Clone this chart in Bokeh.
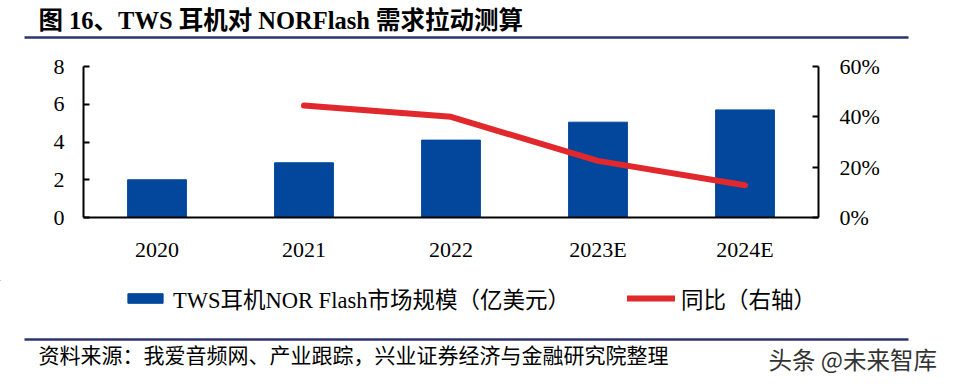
from bokeh.plotting import figure
from bokeh.layouts import column
from bokeh.models import (Range1d, LinearAxis, FixedTicker, NumeralTickFormatter,
                          Legend, LegendItem, ColumnDataSource)
from bokeh.core.properties import value
from bokeh.embed import file_html
from bokeh.resources import INLINE

# ---- data ----
years = ["2020", "2021", "2022", "2023E", "2024E"]
market = [2.0, 2.9, 4.1, 5.05, 5.7]          # 亿美元
yoy_years = ["2021", "2022", "2023E", "2024E"]
yoy = [0.445, 0.40, 0.225, 0.128]             # 同比
left_ticks = [0, 2, 4, 6, 8]
right_ticks = [0, 0.2, 0.4, 0.6]

title_text = "图 16、TWS 耳机对 NORFlash 需求拉动测算"
bar_label = "TWS耳机NOR Flash市场规模（亿美元）"
line_label = "同比（右轴）"
source_text = "资料来源：我爱音频网、产业跟踪，兴业证券经济与金融研究院整理"
mark_text = "头条 @未来智库"

BLUE = "#02479B"
RED = "#E1282C"
NAVY = "#2F3270"
SERIF = "Liberation Serif, Noto Sans CJK SC"
SANS = "Noto Sans CJK SC"
W = 953


def blank_fig(h):
    f = figure(width=W, height=h, x_range=Range1d(0, W), y_range=Range1d(h, 0),
               x_axis_type=None, y_axis_type=None, output_backend="svg",
               toolbar_location=None, title=None, min_border=0, frame_align=False)
    f.outline_line_color = None
    f.xgrid.visible = False
    f.ygrid.visible = False
    f.background_fill_color = "white"
    f.border_fill_color = "white"
    return f


# ---------- header ----------
head = blank_fig(50)
head.text(x=[38], y=[20], text=[title_text], text_font=value(SERIF), text_font_style="bold",
          text_font_size="24.5px", text_baseline="middle", text_align="left", text_color="black")
head.line(x=[24, 908], y=[37, 37], line_color=NAVY, line_width=2.5)

# ---------- main chart ----------
p = figure(x_range=years, y_range=Range1d(0, 8), width=W, height=230,
           output_backend="svg", toolbar_location=None, title=None, frame_align=False,
           min_border_left=83, min_border_right=135, min_border_top=16, min_border_bottom=63)
p.outline_line_color = None
p.xgrid.visible = False
p.ygrid.visible = False
p.background_fill_color = "white"
p.border_fill_color = "white"

src_bar = ColumnDataSource(dict(year=years, market=market))
bars = p.vbar(x="year", top="market", width=0.4, source=src_bar,
              fill_color=BLUE, line_color=BLUE)

p.extra_y_ranges = {"yoy": Range1d(0, 0.6)}
src_line = ColumnDataSource(dict(year=yoy_years, yoy=yoy))
line = p.line(x="year", y="yoy", source=src_line, y_range_name="yoy",
              line_color=RED, line_width=6, line_cap="round", line_join="round")


def style_axis(ax):
    ax.axis_line_color = "black"
    ax.axis_line_width = 2
    ax.major_tick_line_color = "black"
    ax.major_tick_line_width = 2
    ax.minor_tick_line_color = None
    ax.major_label_text_font = SERIF
    ax.major_label_text_font_size = "22px"
    ax.major_label_text_color = "black"


yl = p.yaxis[0]
yl.ticker = FixedTicker(ticks=left_ticks)
style_axis(yl)
yl.major_tick_in = 6
yl.major_tick_out = 0
yl.major_label_standoff = 19

yr = LinearAxis(y_range_name="yoy", ticker=FixedTicker(ticks=right_ticks),
                formatter=NumeralTickFormatter(format="0%"))
style_axis(yr)
yr.major_tick_in = 6
yr.major_tick_out = 0
yr.major_label_standoff = 21
p.add_layout(yr, "right")

xa = p.xaxis[0]
style_axis(xa)
xa.major_tick_line_color = None
xa.major_label_standoff = 13

# ---------- footer ----------
foot = blank_fig(106)
# legend swatch renderers, kept far outside the visible frame
leg_bar = foot.vbar(x=[-5000], top=[-5000], bottom=[-4990], width=1,
                    fill_color=BLUE, line_color=BLUE)
leg_line = foot.line(x=[-5000, -4990], y=[-5000, -5000], line_color=RED, line_width=6,
                     line_cap="round")


def make_legend(label, rend, loc, gw):
    return Legend(items=[LegendItem(label=value(label), renderers=[rend])],
                  location=loc, orientation="horizontal", glyph_width=gw, glyph_height=12,
                  label_standoff=6, padding=0, margin=0, border_line_color=None,
                  background_fill_alpha=0, label_text_font=SERIF,
                  label_text_font_size="22.5px", label_height=24, label_text_color="black")


foot.add_layout(make_legend(bar_label, leg_bar, (123, 72), 44))
foot.add_layout(make_legend(line_label, leg_line, (627, 72), 48))
foot.line(x=[24, 908], y=[59, 59], line_color=NAVY, line_width=2.5)
foot.text(x=[38], y=[75], text=[source_text], text_font=value(SERIF), text_font_size="21px",
          text_baseline="middle", text_align="left", text_color="black")
foot.text(x=[768], y=[78], text=[mark_text], text_font=value(SANS), text_font_size="23.5px",
          text_baseline="middle", text_align="left", text_color="#333333")

layout = column(head, p, foot, spacing=0)
open("out.html", "w").write(file_html(layout, INLINE))
